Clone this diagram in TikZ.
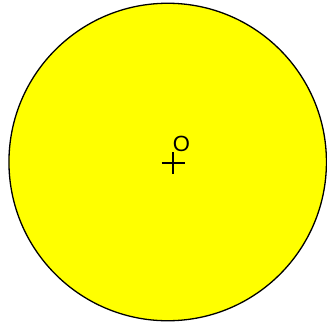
\documentclass[tikz,border=0pt]{standalone}
\usepackage{fontspec}
\setmainfont{Liberation Sans}
\usetikzlibrary{positioning}
\definecolor{cDisc}{HTML}{FFFF00}
\definecolor{cInk}{HTML}{000000}

\begin{document}
\begin{tikzpicture}[x=1pt,y=-1pt]
  \useasboundingbox (0,0) rectangle (327,325);
  % disc
  \node[circle,draw=cInk,fill=cDisc,line width=1.3pt,minimum size=317.5pt,inner sep=0pt] (disc) at (167.7,162) {};
  % centre mark and its label
  \coordinate (centre) at (173,163);
  \draw[cInk,line width=1.5pt] ([xshift=-11.5pt]centre) -- ([xshift=11.5pt]centre)
    ([yshift=-11pt]centre) -- ([yshift=11pt]centre);
  \node[inner sep=0pt,font=\fontsize{22}{24}\selectfont] (lblO) at (181.5,143.5) {O};
\end{tikzpicture}
\end{document}
